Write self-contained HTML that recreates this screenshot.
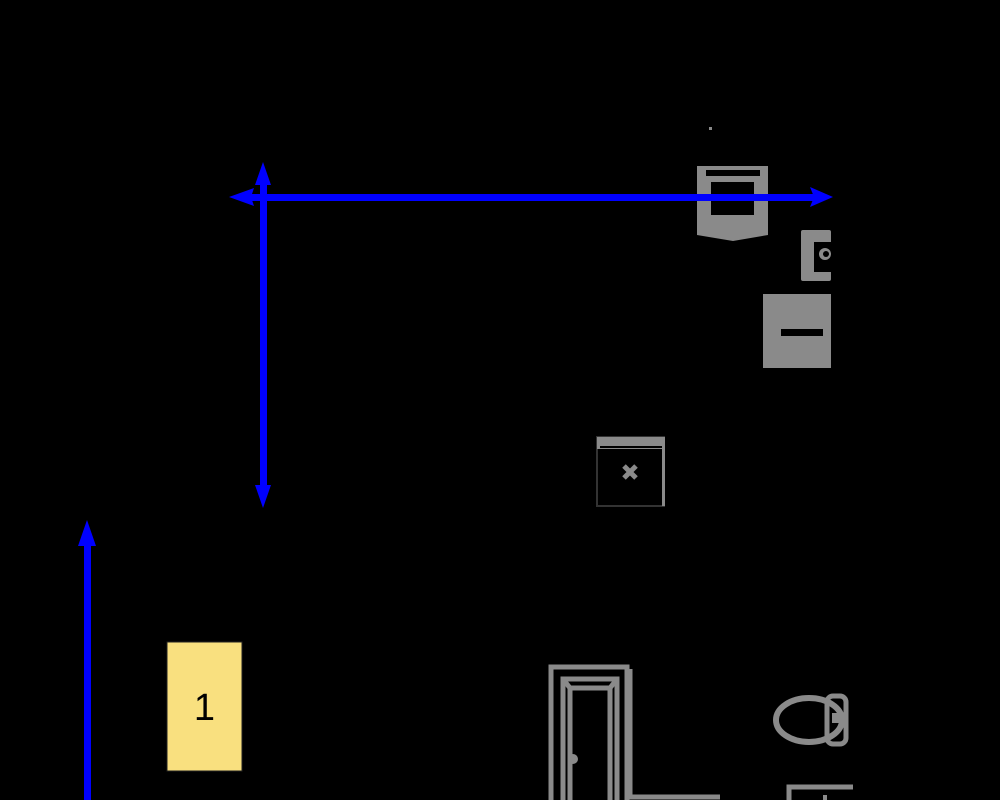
<!DOCTYPE html>
<html><head><style>html,body{margin:0;padding:0;background:#000;width:1000px;height:800px;overflow:hidden}</style></head>
<body>
<svg width="1000" height="800" viewBox="0 0 1000 800" xmlns="http://www.w3.org/2000/svg">
<rect width="1000" height="800" fill="#000"/>
<!-- sink -->
<path d="M697 166 H768 V235 L733 241 L697 235 Z" fill="#8a8a8a"/>
<rect x="706" y="170" width="54" height="6" fill="#000"/>
<rect x="711" y="182" width="43" height="33" fill="#000"/>
<rect x="709" y="127" width="3" height="3" fill="#8a8a8a"/>
<!-- small box -->
<rect x="801" y="230" width="30" height="51" rx="2" fill="#8a8a8a"/>
<rect x="814" y="242" width="17" height="30" fill="#000"/>
<circle cx="825" cy="254" r="6" fill="#8a8a8a"/>
<circle cx="826" cy="254" r="3" fill="#000"/>
<!-- gray box -->
<rect x="763" y="294" width="68" height="74" fill="#8a8a8a"/>
<rect x="781" y="329" width="42" height="7" fill="#000"/>
<!-- middle box -->
<rect x="597" y="437" width="67" height="69" fill="#000" stroke="#333" stroke-width="2"/>
<rect x="597" y="437" width="67" height="12" fill="#8a8a8a"/>
<rect x="600" y="446" width="62" height="2" fill="#000"/>
<rect x="662" y="437" width="3" height="69" fill="#8a8a8a"/>
<path d="M624 466 L636 478 M636 466 L624 478" stroke="#8a8a8a" stroke-width="5"/>
<!-- blue arrows -->
<g fill="#0000ff" stroke="none">
<rect x="245" y="194" width="570" height="7"/>
<path d="M833 197 L810 187 L814 197 L810 207 Z"/>
<path d="M229 197 L254 188 L251 197 L254 206 Z"/>
<rect x="260" y="180" width="7" height="310"/>
<path d="M263 162 L255 185 L271 185 Z"/>
<path d="M263 508 L255 485 L271 485 Z"/>
<rect x="84" y="540" width="7" height="260"/>
<path d="M87 520 L78 546 L96 546 Z"/>
</g>
<!-- yellow box -->
<rect x="167" y="642" width="75" height="129" fill="#f9e07f" stroke="#222" stroke-width="1"/>
<text x="204.5" y="720" font-family="'Liberation Sans', sans-serif" font-size="38" text-anchor="middle" fill="#000">1</text>
<!-- door -->
<g fill="none" stroke="#8a8a8a" stroke-width="5">
<path d="M551 800 V667 H627 V800"/>
<path d="M563 800 V679 H617 V800"/>
<path d="M563 679 L570 688 H610 L617 679"/>
<path d="M570 800 V688 M610 800 V688"/>
<path d="M630 669 V797 H720"/>
</g>
<circle cx="573" cy="759" r="5" fill="#8a8a8a"/>
<!-- toilet -->
<ellipse cx="809" cy="720" rx="33" ry="22" fill="none" stroke="#8a8a8a" stroke-width="6"/>
<rect x="827" y="696" width="19" height="48" rx="6" fill="none" stroke="#8a8a8a" stroke-width="5"/>
<rect x="832" y="713" width="8" height="10" fill="#8a8a8a"/>
<!-- bottom box -->
<path d="M789 800 V787 H853" fill="none" stroke="#8a8a8a" stroke-width="5"/>
<rect x="823" y="795" width="4" height="5" fill="#8a8a8a"/>
</svg>
</body></html>
